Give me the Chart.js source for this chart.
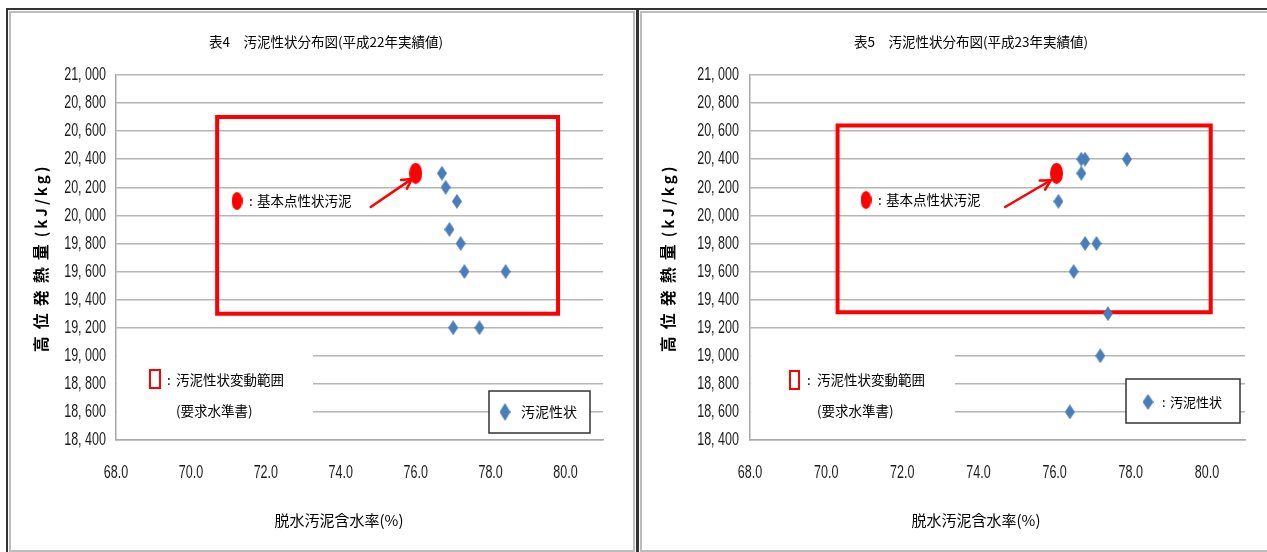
<!DOCTYPE html>
<html lang="ja">
<head>
<meta charset="utf-8">
<title>汚泥性状分布図</title>
<script src="https://cdn.jsdelivr.net/npm/chart.js@4.4.1/dist/chart.umd.min.js"></script>
<style>
  html, body { margin: 0; padding: 0; background: #fff; width: 1267px; height: 552px; overflow: hidden; }
  .panel { position: absolute; top: 8px; height: 543px; border: 2px solid #333; background: #fff;
           box-shadow: inset 0 0 0 1px #fff, inset 0 0 0 3px #bcbcbc; }
  #p1 { left: 6px; width: 628px; }
  #p2 { left: 637px; width: 640px; }
  canvas { position: absolute; }
  #c1 { left: 10px; top: 12px; }
  #c2 { left: 641px; top: 12px; }
</style>
</head>
<body>
<div class="panel" id="p1"></div>
<div class="panel" id="p2"></div>
<canvas id="c1" width="623" height="536"></canvas>
<canvas id="c2" width="626" height="536"></canvas>
<script>
// axis ranges
const xRange = [68, 81];
const yRange = [18400, 21000];
const xStep = 2;
const yStep = 200;

// texts
const titleH22 = '表4　汚泥性状分布図(平成22年実績値)';
const titleH23 = '表5　汚泥性状分布図(平成23年実績値)';
const xTitle = '脱水汚泥含水率(%)';
const yTitleMain = '高位発熱量';
const yTitleUnit = '(kJ/kg)';
const baseText = '基本点性状汚泥';
const rangeText = ['汚泥性状変動範囲', '(要求水準書)'];
const seriesText = '汚泥性状';

// 平成22年 実績
const moistH22 = [76.7, 76.8, 77.1, 76.9, 77.2, 77.3, 78.4, 77.0, 77.7];
const heatH22 = [20300, 20200, 20100, 19900, 19800, 19600, 19600, 19200, 19200];
// 平成23年 実績
const moistH23 = [76.7, 76.8, 77.9, 76.7, 76.1, 76.8, 77.1, 76.5, 77.4, 77.2, 76.4];
const heatH23 = [20400, 20400, 20400, 20300, 20100, 19800, 19800, 19600, 19300, 19000, 18600];

// 基本点 (含水率, 発熱量)
const baseH22 = [76.0, 20300];
const baseH23 = [76.05, 20300];

// 変動範囲 (要求水準書)
const rangeXH22 = [70.7, 79.8];
const rangeYH22 = [19300, 20700];
const rangeXH23 = [70.3, 80.1];
const rangeYH23 = [19310, 20640];

// arrow tail -> head
const arrowH22 = [74.8, 20060, 75.9, 20260];
const arrowH23 = [74.7, 20060, 75.9, 20250];

const CJK = '"Noto Sans CJK JP", "Noto Sans", sans-serif';
const NUM = '"Liberation Sans", Arial, sans-serif';
const BLUE = '#4a7ebb';
const RED = '#ff0000';

function sprite(w, h, draw) {
  const c = document.createElement('canvas');
  c.width = w; c.height = h;
  draw(c.getContext('2d'), w, h);
  return c;
}
function diamond(w, h) {
  return sprite(w, h, g => {
    g.fillStyle = BLUE;
    g.beginPath();
    g.moveTo(w / 2, 0); g.lineTo(w, h / 2); g.lineTo(w / 2, h); g.lineTo(0, h / 2);
    g.closePath(); g.fill();
  });
}
function oval(w, h) {
  return sprite(w, h, g => {
    g.fillStyle = RED;
    g.beginPath();
    g.ellipse(w / 2, h / 2, w / 2, h / 2, 0, 0, Math.PI * 2);
    g.fill();
  });
}

function spacedText(g, txt, x, y, spacing) {
  let cx = x;
  for (const ch of txt) {
    g.fillText(ch, cx, y);
    cx += g.measureText(ch).width + spacing;
  }
  return cx;
}
function spacedWidth(g, txt, spacing) {
  let w = 0;
  for (const ch of txt) w += g.measureText(ch).width + spacing;
  return w;
}

// narrow-looking number labels (the source uses a condensed face)
function narrowText(g, txt, x, y, align) {
  g.save();
  g.translate(x, y);
  g.scale(0.66, 1);
  g.textAlign = align;
  g.fillText(txt, 0, 0);
  g.restore();
}

function notesPlugin(n) {
  return {
    id: 'notes',
    beforeDatasetsDraw(chart) {
      const g = chart.ctx, a = chart.chartArea;
      g.save();
      g.fillStyle = '#fff';
      g.fillRect(a.left + 1, n.coverTop, n.coverRight - a.left - 1, a.bottom - 1 - n.coverTop);
      g.restore();
    },
    afterDatasetsDraw(chart) {
      const g = chart.ctx, xs = chart.scales.x, ys = chart.scales.y;
      g.save();
      // arrow
      const x0 = xs.getPixelForValue(n.arrow[0]), y0 = ys.getPixelForValue(n.arrow[1]);
      const x1 = xs.getPixelForValue(n.arrow[2]), y1 = ys.getPixelForValue(n.arrow[3]);
      const ang = Math.atan2(y1 - y0, x1 - x0);
      g.strokeStyle = RED; g.lineWidth = 2.5; g.lineCap = 'round';
      g.beginPath(); g.moveTo(x0, y0); g.lineTo(x1, y1); g.stroke();
      g.beginPath();
      g.moveTo(x1 - 11 * Math.cos(ang - 0.5), y1 - 11 * Math.sin(ang - 0.5));
      g.lineTo(x1, y1);
      g.lineTo(x1 - 11 * Math.cos(ang + 0.5), y1 - 11 * Math.sin(ang + 0.5));
      g.stroke();

      g.fillStyle = '#000';
      g.textBaseline = 'middle';
      g.textAlign = 'left';

      // base point label
      g.drawImage(n.dotImg, n.dot[0] - n.dotImg.width / 2, n.dot[1] - n.dotImg.height / 2);
      g.font = '13.5px ' + CJK;
      g.fillText(':', n.dot[2], n.dot[1]);
      g.fillText(baseText, n.dot[3], n.dot[1]);

      // range label
      g.strokeStyle = RED; g.lineWidth = 2;
      g.strokeRect(n.sq[0], n.sq[1], n.sq[2], n.sq[3]);
      g.fillText(':', n.rl[0], n.rl[2]);
      g.fillText(rangeText[0], n.rl[1], n.rl[2]);
      g.fillText(rangeText[1], n.rl[1], n.rl[3]);

      // series legend box
      g.fillStyle = '#fff';
      g.fillRect(n.lg[0], n.lg[1], n.lg[2], n.lg[3]);
      g.strokeStyle = '#333'; g.lineWidth = 1.5;
      g.strokeRect(n.lg[0], n.lg[1], n.lg[2], n.lg[3]);
      g.drawImage(n.lgImg, n.lgDot[0] - n.lgImg.width / 2, n.lgDot[1] - n.lgImg.height / 2);
      g.fillStyle = '#000';
      g.font = n.lgFont + 'px ' + CJK;
      if (n.lgColon) g.fillText(':', n.lgColon, n.lgDot[1]);
      g.fillText(seriesText, n.lgText, n.lgDot[1]);
      g.restore();
    },
    afterDraw(chart) {
      const g = chart.ctx, xs = chart.scales.x, ys = chart.scales.y, a = chart.chartArea;
      g.save();
      g.fillStyle = '#1a1a1a';
      g.textBaseline = 'middle';
      g.font = '19px ' + NUM;
      ys.ticks.forEach(t => {
        narrowText(g, t.label, a.left - n.tickPad, ys.getPixelForValue(t.value), 'right');
      });
      xs.ticks.forEach(t => {
        narrowText(g, t.label, xs.getPixelForValue(t.value), a.bottom + 33, 'center');
      });

      g.fillStyle = '#000';
      g.textAlign = 'center';
      g.font = '13.5px ' + CJK;
      g.fillText(n.title, n.titlePos[0], n.titlePos[1]);
      g.font = '15px ' + CJK;
      g.fillText(xTitle, n.xTitlePos[0], n.xTitlePos[1]);

      // rotated y title
      g.translate(n.yTitlePos[0], n.yTitlePos[1]);
      g.rotate(-Math.PI / 2);
      g.textAlign = 'left';
      g.font = 'bold 16px ' + CJK;
      const w1 = spacedWidth(g, yTitleMain, 7);
      g.font = 'bold 15px ' + CJK;
      const w2 = spacedWidth(g, yTitleUnit, 3);
      let cx = -(w1 + w2) / 2;
      g.font = 'bold 16px ' + CJK;
      cx = spacedText(g, yTitleMain, cx, 0, 7);
      g.font = 'bold 15px ' + CJK;
      spacedText(g, yTitleUnit, cx, 0, 3);
      g.restore();
    }
  };
}

function buildChart(id, moist, heat, base, rangeX, rangeY, n) {
  const ctx = document.getElementById(id).getContext('2d');
  const points = moist.map((m, i) => ({ x: m, y: heat[i] }));
  const box = [
    { x: rangeX[0], y: rangeY[1] }, { x: rangeX[1], y: rangeY[1] },
    { x: rangeX[1], y: rangeY[0] }, { x: rangeX[0], y: rangeY[0] },
    { x: rangeX[0], y: rangeY[1] }
  ];
  return new Chart(ctx, {
    type: 'scatter',
    data: {
      datasets: [
        { label: baseText, data: [{ x: base[0], y: base[1] }], pointStyle: oval(13, 21), pointRadius: 8, order: 1 },
        { label: seriesText, data: points, pointStyle: diamond(10, 15), pointRadius: 6, order: 2 },
        { label: rangeText[0], data: box, showLine: true, borderColor: RED, borderWidth: 4,
          borderJoinStyle: 'miter', borderCapStyle: 'square', pointRadius: 0, fill: false, order: 3 }
      ]
    },
    options: {
      responsive: false,
      animation: false,
      events: [],
      layout: { padding: { top: 63, right: n.padRight, left: 0, bottom: 0 } },
      plugins: { legend: { display: false }, tooltip: { enabled: false }, title: { display: false } },
      scales: {
        x: {
          type: 'linear', min: xRange[0], max: xRange[1],
          afterFit: s => { s.height = 108; },
          grid: { display: false, drawTicks: false },
          border: { color: '#a8a8a8', width: 1.5 },
          ticks: {
            display: false, stepSize: xStep, includeBounds: false,
            callback: v => v.toFixed(1)
          }
        },
        y: {
          type: 'linear', min: yRange[0], max: yRange[1],
          afterFit: s => { s.width = n.axisW; },
          grid: { color: '#b5b5b5', lineWidth: 1.5, drawTicks: false },
          border: { color: '#a8a8a8', width: 1.5 },
          ticks: {
            display: false, stepSize: yStep,
            callback: v => { const s = String(v); return s.slice(0, -3) + ', ' + s.slice(-3); }
          }
        }
      }
    },
    plugins: [notesPlugin(n)]
  });
}

buildChart('c1', moistH22, heatH22, baseH22, rangeXH22, rangeYH22, {
  padRight: 30, axisW: 106, tickPad: 10,
  title: titleH22, titlePos: [316, 30], xTitlePos: [329, 508], yTitlePos: [31, 246],
  coverRight: 303, coverTop: 323,
  arrow: arrowH22,
  dotImg: oval(11, 18), dot: [227, 189, 239, 247],
  sq: [140, 358, 10, 18], rl: [157, 166, 368, 399],
  lg: [479, 379, 101, 42], lgImg: diamond(11, 18), lgDot: [495, 400], lgText: 511, lgColon: 0, lgFont: 14
});

buildChart('c2', moistH23, heatH23, baseH23, rangeXH23, rangeYH23, {
  padRight: 22, axisW: 109, tickPad: 11,
  title: titleH23, titlePos: [330, 30], xTitlePos: [335, 508], yTitlePos: [27, 246],
  coverRight: 314, coverTop: 323,
  arrow: arrowH23,
  dotImg: oval(11, 18), dot: [225, 188, 237, 245],
  sq: [149, 359, 9, 18], rl: [166, 176, 368, 399],
  lg: [485, 367, 114, 44], lgImg: diamond(11, 16), lgDot: [507, 390], lgText: 529, lgColon: 521, lgFont: 13
});
</script>
</body>
</html>
